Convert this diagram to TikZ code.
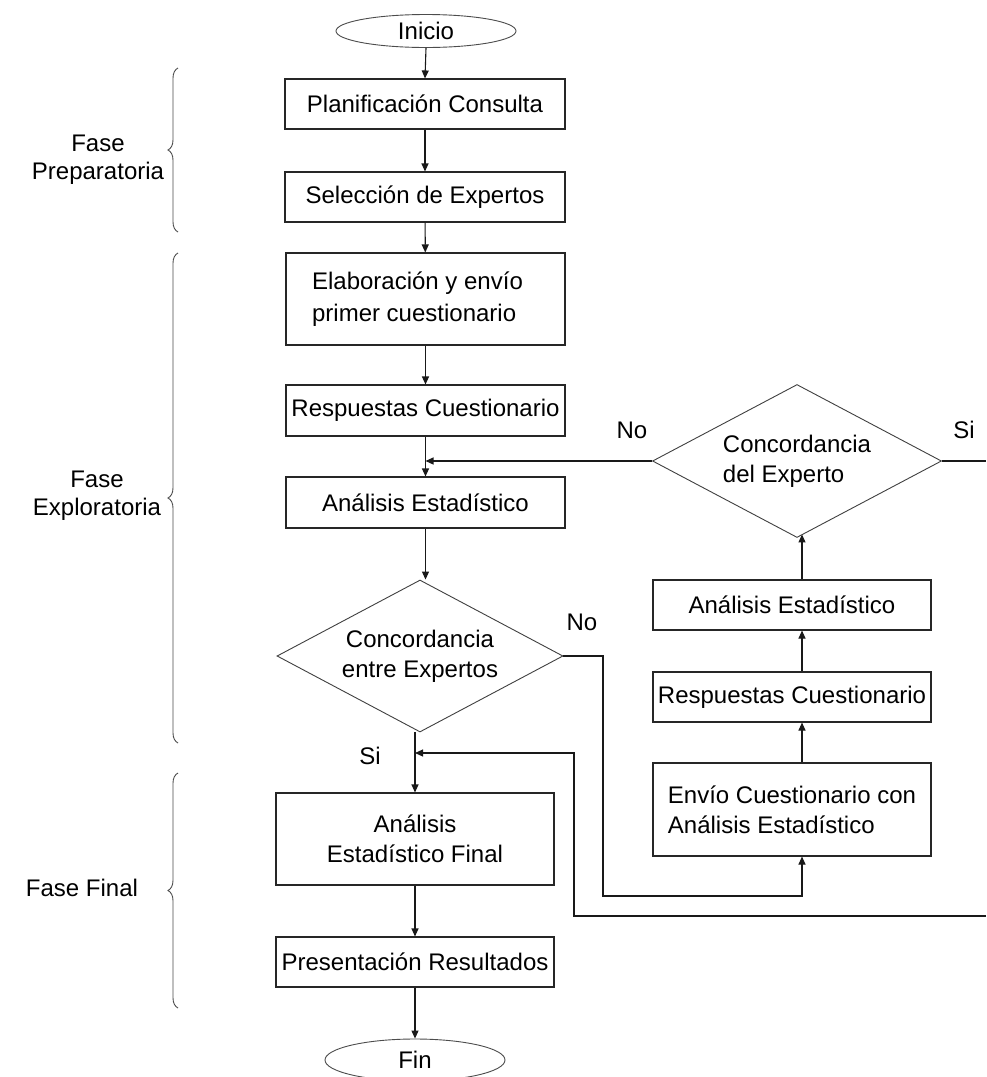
\documentclass[tikz,border=0pt]{standalone}
\usepackage{fontspec}
\setmainfont{Liberation Sans}
\usetikzlibrary{shapes.geometric,arrows.meta,calc,decorations.pathreplacing}
\begin{document}
\begin{tikzpicture}[x=1pt,y=-1pt,
  font=\fontsize{24}{30}\selectfont,
  box/.style={draw=black!85,line width=1.1pt,rectangle,inner sep=0pt},
  term/.style={draw=black!70,line width=0.9pt,ellipse,inner sep=0pt,minimum width=180pt,minimum height=33pt},
  dec/.style={draw=black!75,line width=0.9pt,diamond,inner sep=0pt,aspect=1.88},
  arr/.style={draw=black!90,line width=1.1pt,-{Triangle[length=8pt,width=7pt]}},
  con/.style={draw=black!90,line width=1.1pt},
  lbl/.style={inner sep=0pt},
  phase/.style={draw=black!70,line width=0.9pt,decorate,decoration={brace,amplitude=10pt}}
]
\useasboundingbox[fill=white] (0,0) rectangle (986,1077);

% main column
\node[term] (inicio) at (426,31) {Inicio};
\node[box,minimum width=280pt,minimum height=50pt] (plan) at (425,104) {Planificación Consulta};
\node[box,minimum width=280pt,minimum height=50pt] (sel) at (425,197) {Selección de Expertos};
\node[box,minimum width=279pt,minimum height=92pt,align=left,font=\fontsize{24}{32}\selectfont] (elab) at (425.5,299) {Elaboración y envío\hspace*{16pt}\\primer cuestionario};
\node[box,minimum width=279pt,minimum height=51pt] (resp) at (425.5,410.5) {Respuestas Cuestionario};
\node[box,minimum width=279pt,minimum height=51pt] (anal) at (425.5,502.5) {Análisis Estadístico};
\node[dec,minimum width=286pt,minimum height=152pt,align=center] (d1) at (420,656) {Concordancia\\entre Expertos};
\node[box,minimum width=278pt,minimum height=92pt,align=center] (fina) at (415,839) {Análisis\\Estadístico Final};
\node[box,minimum width=278pt,minimum height=50pt] (pres) at (415,962) {Presentación Resultados};
\node[term,minimum height=42pt] (fin) at (415,1060) {Fin};

% right column
\node[dec,minimum width=289pt,minimum height=153pt,align=left] (d2) at (797,461) {Concordancia\\del Experto};
\node[box,minimum width=278pt,minimum height=50pt] (ra) at (792,605) {Análisis Estadístico};
\node[box,minimum width=278pt,minimum height=50pt] (rr) at (792,697) {Respuestas Cuestionario};
\node[box,minimum width=278pt,minimum height=93pt,align=left] (re) at (792,809.5) {Envío Cuestionario con\\Análisis Estadístico};

% helper coordinates
\coordinate (n1) at (603,896);
\coordinate (out1) at (986,461);
\coordinate (out2) at (986,916);
\coordinate (c1) at (574,753);
\coordinate (sitop) at (415,732);

% main flow
\draw[arr] (inicio.south) -- (plan.north);
\draw[arr] (plan) -- (sel);
\draw[arr] (sel) -- (elab);
\draw[arr] (elab) -- (resp);
\draw[arr] (resp) -- (anal);
\draw[arr] (anal.south) -- (anal.south |- d1.north);
\draw[arr] (sitop) -- (sitop |- fina.north);
\draw[arr] (fina) -- (pres);
\draw[arr] (pres.south) -- (fin.north);

% loop connectors
\draw[arr] (d2.west) -- (d2.west -| resp.south);
\draw[con] (d2.east) -- (out1);
\draw[arr] (d1.east) -| (n1) -| ($(re.south)+(10,0)$);
\draw[arr] ($(re.north)+(10,0)$) -- ($(rr.south)+(10,0)$);
\draw[arr] ($(rr.north)+(10,0)$) -- ($(ra.south)+(10,0)$);
\draw[arr] ($(ra.north)+(10,0)$) -- ($(ra.north)+(10,-45)$);
\draw[arr] (out2) -| (c1) -- (c1 -| fina.north);

% labels
\node[lbl] (lno1) at (632,430) {No};
\node[lbl] (lsi1) at (964,430) {Si};
\node[lbl] (lno2) at (582,622) {No};
\node[lbl] (lsi2) at (370,756) {Si};

% phases
\draw[phase] (178,232) -- (178,68);
\draw[phase] (178,743) -- (178,253);
\draw[phase] (178,1008) -- (178,773);
\node[lbl,align=center,font=\fontsize{24}{28}\selectfont] (fp) at (98,160) {Fase\\Preparatoria};
\node[lbl,align=center,font=\fontsize{24}{28}\selectfont] (fe) at (97,496) {Fase\\Exploratoria};
\node[lbl] (ff) at (82,888) {Fase Final};
\end{tikzpicture}
\end{document}
